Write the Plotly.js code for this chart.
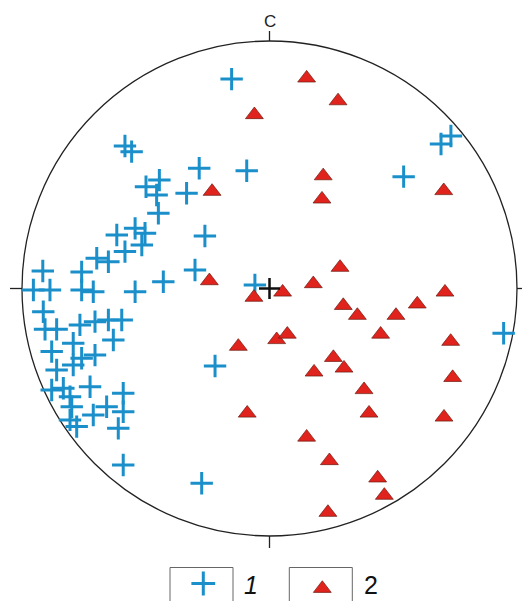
<!DOCTYPE html>
<html>
<head>
<meta charset="utf-8">
<script src="https://cdn.plot.ly/plotly-3.0.1.min.js"></script>
<style>html,body{margin:0;padding:0;background:#fff;}#chart{width:522px;height:601px;}</style>
</head>
<body>
<div id="chart"></div>
<script>
// Stereonet projection coordinates (circle radius = 100)
// Group 1 (blue crosses)
const group1X = [-15.3,-58.4,-55.7,-28.4,-9.2,-49.9,-44.5,-45.6,-33.5,-44.9,-26.1,-61.7,-54.3,-50.3,-51.6,-58.4,-69.8,-65.1,-91.6,-75.9,-30.1,-42.9,-95.4,-88.7,-75.9,-71.2,-54.3,-5.9,-91.4,-90.7,-86.0,-76.6,-70.5,-65.1,-59.7,-63.1,-79.3,-88.0,-70.5,-75.9,-86.0,-79.3,-72.5,-88.0,-83.3,-80.6,-59.1,-79.9,-65.8,-71.2,-59.1,-80.6,-77.9,-61.1,-59.1,-27.4,-22.0,54.2,69.3,73.3,94.6];
const group1Y = [84.6,57.6,55.3,48.6,47.6,41.1,43.8,37.8,38.5,30.4,21.2,21.6,24.3,22.3,17.6,14.9,12.2,10.8,7.1,6.7,7.5,2.7,-0.6,-0.6,-0.6,-1.3,-1.3,1.4,-9.4,-16.5,-16.5,-14.7,-13.4,-12.7,-12.7,-20.8,-22.1,-25.5,-26.9,-28.2,-32.9,-30.9,-39.7,-41.0,-40.3,-43.7,-42.3,-47.8,-47.8,-51.1,-49.8,-53.1,-55.8,-56.5,-71.3,-78.7,-31.3,45.2,58.4,61.6,-18.1];
// Group 2 (red triangles)
const group2X = [-24.3,-6.3,5.3,17.7,28.5,29.8,35.5,51.1,59.7,70.9,44.9,73.2,2.9,7.2,-12.6,25.8,30.1,18.0,74.0,38.2,40.2,70.5,-9.0,15.0,24.2,43.7,46.4,23.6,15.0,27.7,-6.1,21.7,21.2,-23.2,70.4];
const group2Y = [3.1,-3.6,-1.5,1.9,8.5,-6.9,-10.9,-10.9,-6.3,-1.5,-18.5,-21.4,-20.7,-18.5,-23.4,-27.9,-32.2,-33.8,-36.0,-40.9,-50.4,-52.0,-50.4,-60.1,-69.6,-76.6,-83.6,-90.5,85.0,75.8,70.2,45.5,36.1,39.2,39.5];
const centerX = [0];
const centerY = [0];
const axisLabel = "C";
const legendLabels = ["1", "2"];

const W = 522, H = 601;
const CX = 269.5, CY = 288.5, R = 247.5; // pixel centre / radius of the net
const k = 100 / R;
const xr = [(0 - CX) * k, (W - CX) * k];
const yr = [(CY - H) * k, (CY - 0) * k];
function px2x(px) { return (px - CX) * k; }
function py2y(py) { return (CY - py) * k; }

const BLUE = '#1a8fca';
const RED = '#e0231c';
const FONT = 'Arial, "Liberation Sans", sans-serif';

const crossMarker = {symbol: 'cross-thin-open', size: 16, line: {color: BLUE, width: 3}, color: BLUE};
const triMarker = {symbol: 'triangle-up', size: 15.5, color: RED, line: {color: '#6b1a10', width: 0.7}};

const traces = [
  {type: 'scatter', mode: 'markers', x: group1X, y: group1Y, name: legendLabels[0], marker: crossMarker, hoverinfo: 'skip', showlegend: false},
  {type: 'scatter', mode: 'markers', x: group2X, y: group2Y, name: legendLabels[1], marker: triMarker, hoverinfo: 'skip', showlegend: false},
  {type: 'scatter', mode: 'markers', x: centerX, y: centerY, marker: {symbol: 'cross-thin-open', size: 15, color: '#111', line: {color: '#111', width: 2.5}}, hoverinfo: 'skip', showlegend: false},
  // legend keys
  {type: 'scatter', mode: 'markers', x: [px2x(203.3)], y: [py2y(583.5)], marker: Object.assign({}, crossMarker, {size: 17}), hoverinfo: 'skip', showlegend: false, cliponaxis: false},
  {type: 'scatter', mode: 'markers', x: [px2x(322.3)], y: [py2y(588.5)], marker: triMarker, hoverinfo: 'skip', showlegend: false, cliponaxis: false}
];

const lineStyle = {color: '#222', width: 1.3};
const shapes = [
  {type: 'circle', xref: 'x', yref: 'y', x0: -100, x1: 100, y0: -100, y1: 100, line: lineStyle, layer: 'below'},
  {type: 'line', xref: 'x', yref: 'y', x0: 0, x1: 0, y0: 100, y1: 100 + 10 * k, line: lineStyle},
  {type: 'line', xref: 'x', yref: 'y', x0: 0, x1: 0, y0: -100, y1: -100 - 12 * k, line: lineStyle},
  {type: 'line', xref: 'x', yref: 'y', x0: -100 - 12 * k, x1: -100, y0: 0, y1: 0, line: lineStyle},
  {type: 'line', xref: 'x', yref: 'y', x0: 100, x1: 100 + 8 * k, y0: 0, y1: 0, line: lineStyle},
  // legend boxes
  {type: 'rect', xref: 'paper', yref: 'paper', x0: 170 / W, x1: 233 / W, y0: -0.1, y1: 1 - 567.5 / H, line: {color: '#666', width: 1}},
  {type: 'rect', xref: 'paper', yref: 'paper', x0: 289.3 / W, x1: 352.3 / W, y0: -0.1, y1: 1 - 567.5 / H, line: {color: '#666', width: 1}}
];

const annotations = [
  {xref: 'x', yref: 'y', x: 0, y: py2y(21), text: axisLabel, showarrow: false, font: {family: FONT, size: 17, color: '#222'}, xanchor: 'center', yanchor: 'middle'},
  {xref: 'paper', yref: 'paper', x: 251 / W, y: 1 - 585 / H, text: '<i>' + legendLabels[0] + '</i>', showarrow: false, font: {family: FONT, size: 25, color: '#111'}, xanchor: 'center', yanchor: 'middle'},
  {xref: 'paper', yref: 'paper', x: 371 / W, y: 1 - 585 / H, text: legendLabels[1], showarrow: false, font: {family: FONT, size: 25, color: '#111'}, xanchor: 'center', yanchor: 'middle'}
];

const layout = {
  width: W, height: H,
  margin: {l: 0, r: 0, t: 0, b: 0, pad: 0},
  paper_bgcolor: '#fff', plot_bgcolor: '#fff',
  xaxis: {range: xr, visible: false, fixedrange: true, showgrid: false, zeroline: false},
  yaxis: {range: yr, visible: false, fixedrange: true, showgrid: false, zeroline: false},
  shapes: shapes,
  annotations: annotations,
  showlegend: false
};

Plotly.newPlot('chart', traces, layout, {staticPlot: true, displayModeBar: false});
</script>
</body>
</html>
